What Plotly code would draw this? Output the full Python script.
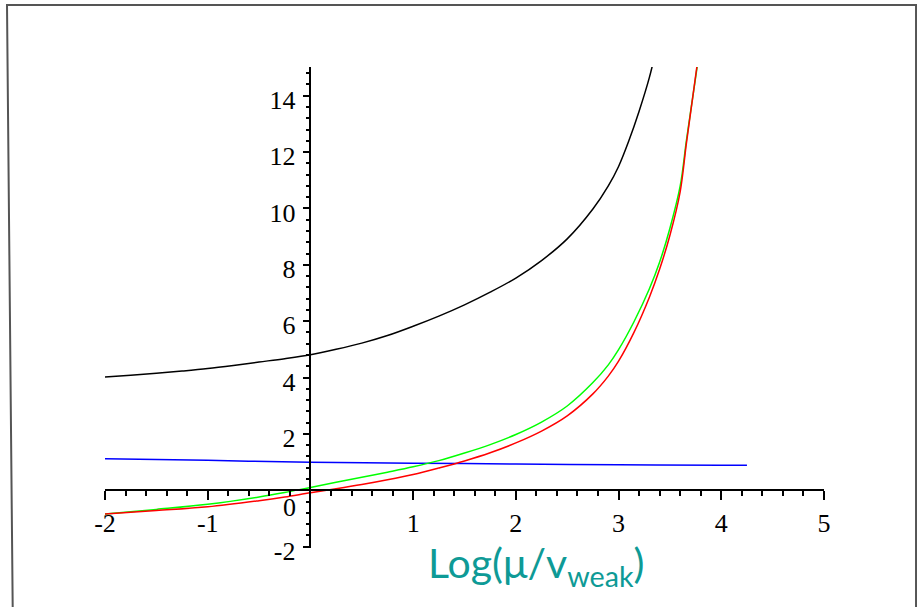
import plotly.graph_objects as go

# ---- data ----
black_x = [-2.0, -1.75, -1.5, -1.25, -1.0, -0.75, -0.5, -0.25, 0.0, 0.25, 0.5, 0.75, 1.0,
           1.25, 1.5, 1.75, 2.0, 2.25, 2.5, 2.75, 2.9, 3.0, 3.1, 3.2, 3.3, 3.4]
black_y = [4.02, 4.08, 4.15, 4.23, 4.32, 4.43, 4.55, 4.67, 4.81, 5.0, 5.22, 5.49, 5.82,
           6.18, 6.58, 7.03, 7.53, 8.15, 8.92, 9.98, 10.8, 11.49, 12.4, 13.45, 14.65, 16.2]

green_x = [-2.0, -1.5, -1.0, -0.5, -0.25, 0.0, 0.25, 0.5, 0.75, 1.0, 1.25, 1.5, 1.75, 2.0,
           2.25, 2.5, 2.75, 2.9, 3.0, 3.15, 3.3, 3.4, 3.5, 3.6, 3.66, 3.72, 3.78]
green_y = [-0.84, -0.68, -0.5, -0.24, -0.08, 0.1, 0.28, 0.46, 0.64, 0.83, 1.05, 1.32, 1.62, 1.98,
           2.42, 2.99, 3.82, 4.45, 4.99, 5.98, 7.15, 8.1, 9.3, 10.8, 12.4, 13.9, 15.4]

red_x = [-2.0, -1.5, -1.0, -0.5, -0.25, 0.0, 0.25, 0.5, 0.75, 1.0, 1.25, 1.5, 1.75, 2.0,
         2.25, 2.5, 2.75, 2.9, 3.0, 3.15, 3.3, 3.4, 3.5, 3.6, 3.66, 3.72, 3.78]
red_y = [-0.84, -0.72, -0.59, -0.37, -0.24, -0.09, 0.05, 0.2, 0.37, 0.56, 0.79, 1.04, 1.33, 1.68,
         2.1, 2.64, 3.42, 4.05, 4.58, 5.6, 6.85, 7.85, 9.05, 10.6, 12.3, 13.9, 15.5]

blue_x = [-2.0, -1.0, 0.0, 1.0, 2.0, 3.0, 4.0, 4.25]
blue_y = [1.12, 1.06, 0.99, 0.96, 0.93, 0.90, 0.89, 0.89]

x_tickvals = [-2, -1, 1, 2, 3, 4, 5]
x_ticktext = ["-2", "-1", "1", "2", "3", "4", "5"]
y_tickvals = [-2, 2, 4, 6, 8, 10, 12, 14]
y_ticktext = ["-2", "2", "4", "6", "8", "10", "12", "14"]

X_RANGE = [-2, 5]
Y_RANGE = [-2.05, 15.02]

fig = go.Figure()
for xs, ys, col in [(blue_x, blue_y, "#0000ff"),
                    (black_x, black_y, "#000000"),
                    (green_x, green_y, "#00ff00"),
                    (red_x, red_y, "#ff0000")]:
    fig.add_trace(go.Scatter(x=xs, y=ys, mode="lines",
                             line=dict(color=col, width=1.5, shape="spline", smoothing=1.0,
                                       simplify=False),
                             showlegend=False, hoverinfo="skip"))

tickfont = dict(family="Liberation Serif, Times New Roman, serif", size=26, color="black")

x_pos = (0 - Y_RANGE[0]) / (Y_RANGE[1] - Y_RANGE[0])
y_pos = (0 - X_RANGE[0]) / (X_RANGE[1] - X_RANGE[0])

fig.update_layout(
    width=917, height=607,
    margin=dict(l=105, r=93, t=67, b=59, autoexpand=False),
    paper_bgcolor="white", plot_bgcolor="white",
    xaxis=dict(range=X_RANGE, anchor="free", position=x_pos, side="bottom",
               showline=True, linecolor="black", linewidth=1.5,
               showgrid=False, zeroline=False, automargin=False,
               tickmode="array", tickvals=x_tickvals, ticktext=x_ticktext,
               ticks="outside", ticklen=9, tickwidth=1.5, tickcolor="black",
               ticklabelstandoff=1, tickfont=tickfont,
               minor=dict(dtick=0.2, tick0=0, ticks="outside", ticklen=5,
                          tickwidth=1.5, tickcolor="black", showgrid=False)),
    yaxis=dict(range=Y_RANGE, anchor="free", position=y_pos, side="left",
               showline=True, linecolor="black", linewidth=1.5,
               showgrid=False, zeroline=False, automargin=False,
               tickmode="array", tickvals=y_tickvals, ticktext=y_ticktext,
               ticks="outside", ticklen=7, tickwidth=1.5, tickcolor="black",
               ticklabelshift=4, ticklabelstandoff=2, tickfont=tickfont,
               minor=dict(dtick=0.4, tick0=0, ticks="outside", ticklen=4,
                          tickwidth=1.5, tickcolor="black", showgrid=False)),
    annotations=[
        dict(x=-0.2, y=-0.61, xref="x", yref="y", text="0", showarrow=False,
             font=tickfont, xanchor="center", yanchor="middle"),
        dict(x=0.5994, y=-0.036, xref="paper", yref="paper",
             text="Log(μ/v<sub>weak</sub>)", showarrow=False,
             font=dict(family="Lato, Noto Sans, sans-serif", size=41, color="#0e9a96"),
             xanchor="center", yanchor="middle"),
    ],
    shapes=[
        dict(type="path", xref="paper", yref="paper",
             path="M -0.1279 -0.2 L -0.1363 1.1289 L 1.128 1.1289 L 1.128 -0.2",
             line=dict(color="#555555", width=2)),
    ],
)

fig.write_html("out.html", config={"displayModeBar": False},
               post_script="document.body.style.margin='0';")
